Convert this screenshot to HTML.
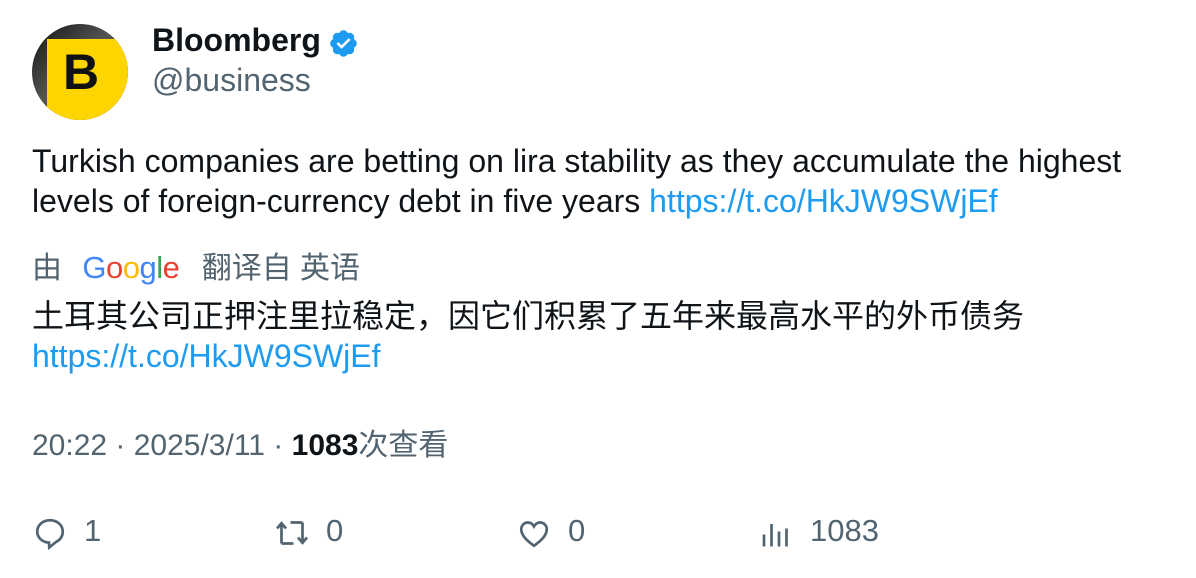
<!DOCTYPE html>
<html><head><meta charset="utf-8"><style>
body{margin:0;width:1196px;height:578px;background:#fff;position:relative;overflow:hidden;font-family:"Liberation Sans","Noto Sans CJK SC",sans-serif;color:#0f1419}
.a{position:absolute;white-space:nowrap}
.link{color:#1d9bf0}
.grey{color:#536471}
</style></head><body>
<div class="a" style="left:32px;top:24px;width:96px;height:96px;border-radius:50%;overflow:hidden;background:linear-gradient(135deg,#111 0%,#555 45%,#222 100%)">
 <div style="position:absolute;left:15px;top:15px;width:81px;height:81px;background:#ffd500"></div>
 <div style="position:absolute;left:31px;top:19px;font:bold 50px 'Liberation Sans',sans-serif;color:#111">B</div>
</div>
<div class="a" style="left:152px;top:22px;font-weight:bold;font-size:32px">Bloomberg</div>
<svg class="a" style="left:328px;top:28px" width="31" height="31" viewBox="0 0 24 24"><path fill="#1d9bf0" d="M22.25 12c0-1.43-.88-2.670-2.19-3.34.46-1.39.2-2.9-.81-3.91s-2.52-1.27-3.910-.81c-.66-1.310-1.910-2.19-3.34-2.19s-2.67.88-3.33 2.19c-1.4-.46-2.91-.2-3.92.81s-1.26 2.52-.8 3.91c-1.31.67-2.2 1.91-2.2 3.34s.89 2.67 2.2 3.34c-.46 1.39-.21 2.9.8 3.91s2.52 1.26 3.91.81c.67 1.31 1.91 2.19 3.34 2.19s2.68-.88 3.34-2.19c1.39.45 2.9.2 3.91-.81s1.27-2.52.81-3.91c1.31-.67 2.19-1.91 2.19-3.34z"/><path fill="#fff" d="M10.5 16.2l-3.9-3.9 1.4-1.4 2.5 2.5 5.5-5.5 1.4 1.4z"/></svg>
<div class="a grey" style="left:152px;top:62px;font-size:32px">@business</div>
<div class="a" style="left:32px;top:141px;font-size:32px;line-height:40px">Turkish companies are betting on lira stability as they accumulate the highest<br>levels of foreign-currency debt in five years <span class="link">https://t.co/HkJW9SWjEf</span></div>
<div class="a grey" style="left:32px;top:243px;font-size:30px">由 <span style="letter-spacing:-0.5px;margin-left:12px;font-size:31px"><span style="color:#4285f4">G</span><span style="color:#ea4335">o</span><span style="color:#fbbc05">o</span><span style="color:#4285f4">g</span><span style="color:#34a853">l</span><span style="color:#ea4335">e</span></span> <span style="margin-left:14px">翻译自 英语</span></div>
<div class="a" style="left:32px;top:296px;font-size:32px;line-height:40px">土耳其公司正押注里拉稳定，因它们积累了五年来最高水平的外币债务<br><span class="link">https://t.co/HkJW9SWjEf</span></div>
<div class="a grey" style="left:32px;top:420px;font-size:30px">20:22 · 2025/3/11 · <b style="color:#0f1419">1083</b>次查看</div>
<svg class="a" style="left:32px;top:515px" width="36" height="36" viewBox="0 0 24 24"><path fill="none" stroke="#536471" stroke-width="1.8" d="M12 3.5c-4.8 0-8.5 3.2-8.5 7.5 0 4 3.3 7.2 7.8 7.4l.2 3.2 4.5-3.6c2.7-1.4 4.5-3.9 4.5-7 0-4.3-3.7-7.5-8.5-7.5z"/></svg>
<div class="a grey" style="left:84px;top:513px;font-size:31px">1</div>
<svg class="a" style="left:274px;top:515px" width="36" height="36" viewBox="0 0 24 24"><path fill="none" stroke="#536471" stroke-width="1.8" d="M5 19V6M2 9l3-3.5L8 9M5 19h8M19 5v13M16 15l3 3.5 3-3.5M19 5h-8"/></svg>
<div class="a grey" style="left:326px;top:513px;font-size:31px">0</div>
<svg class="a" style="left:516px;top:515px" width="36" height="36" viewBox="0 0 24 24"><path fill="none" stroke="#536471" stroke-width="1.8" d="M12 20.5c-5-3.6-8.5-7-8.5-11 0-2.6 2-4.5 4.3-4.5 1.9 0 3.3 1 4.2 2.6.9-1.6 2.3-2.6 4.2-2.6 2.3 0 4.3 1.9 4.3 4.5 0 4-3.5 7.4-8.5 11z"/></svg>
<div class="a grey" style="left:568px;top:513px;font-size:31px">0</div>
<svg class="a" style="left:758px;top:515px" width="36" height="36" viewBox="0 0 24 24"><path fill="none" stroke="#536471" stroke-width="1.8" d="M4 21V13M9 21V6M14 21V11M19 21V9"/></svg>
<div class="a grey" style="left:810px;top:513px;font-size:31px">1083</div>
</body></html>
